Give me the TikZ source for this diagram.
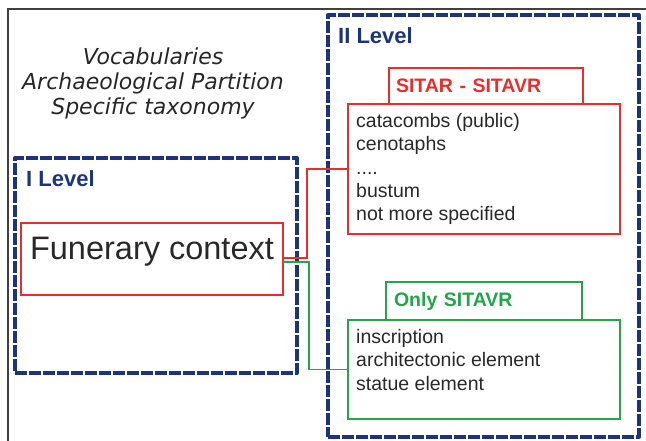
\documentclass[tikz,border=0pt]{standalone}
\usepackage{fontspec}
\setmainfont{Liberation Sans}
\newfontfamily\titlefont{DejaVu Sans}
\usepackage{tikz}
\definecolor{navyblue}{RGB}{30,52,120}
\definecolor{boxred}{RGB}{232,45,45}
\definecolor{boxgreen}{RGB}{35,165,75}
\definecolor{textgray}{RGB}{40,40,40}

\begin{document}
\begin{tikzpicture}[x=1pt,y=-1pt]
    \tikzstyle{levelframe}=[draw=navyblue, line width=4pt, dash pattern=on 12pt off 2pt, line join=round, inner sep=0pt, outer sep=0pt]
    \tikzstyle{levellabel}=[anchor=base west, inner sep=0pt, text=navyblue, font=\fontsize{22}{26}\selectfont\bfseries]
    \tikzstyle{redbox}=[draw=boxred, line width=1.5pt, inner sep=0pt, outer sep=0pt]
    \tikzstyle{greenbox}=[draw=boxgreen, line width=1.5pt, inner sep=0pt, outer sep=0pt]
    \tikzstyle{tabbox}=[anchor=south west, text width=180pt, align=left, inner xsep=7pt, inner ysep=0pt, minimum height=36pt, font=\fontsize{19.5}{23.4}\selectfont\bfseries]
    \tikzstyle{itemlist}=[anchor=north west, align=left, inner xsep=8pt, inner ysep=9pt, text=textgray, font=\fontsize{19.5}{23.4}\selectfont]
    \useasboundingbox (0,0) rectangle (646,441);
    \draw[black!75, line width=1.5pt] (8,441) -- (8,9) -- (646,9);

    \node[font=\titlefont\itshape\fontsize{22}{25}\selectfont, align=center, text=black!85] (title) at (153,83) {Vocabularies\\Archaeological Partition\\Specific taxonomy};

    % the two levels
    \node[levelframe, minimum width=282pt, minimum height=215pt] (lev1) at (156,265.5) {};
    \node[levelframe, minimum width=311pt, minimum height=422pt] (lev2) at (483.5,226) {};
    \node[levellabel] (lev1lbl) at ([xshift=11pt,yshift=-29pt]lev1.north west) {I Level};
    \node[levellabel] (lev2lbl) at ([xshift=10pt,yshift=-29pt]lev2.north west) {II Level};

    \node[redbox, minimum width=262pt, minimum height=72pt, text=textgray, font=\fontsize{32.5}{36}\selectfont, text height=24pt, text depth=22pt] (fc) at (152,259) {Funerary context};

    % SITAR - SITAVR
    \node[redbox, minimum width=272pt, minimum height=130pt] (sitar) at (484,169) {};
    \node[redbox, tabbox, text=boxred] (sitartab) at ([xshift=41pt]sitar.north west) {SITAR - SITAVR};
    \node[itemlist] (sitartxt) at (sitar.north west) {catacombs (public)\\cenotaphs\\....\\bustum\\not more specified};

    % Only SITAVR
    \node[greenbox, minimum width=272pt, minimum height=99pt] (only) at (484,369.5) {};
    \node[greenbox, tabbox, text=boxgreen, minimum height=38pt, inner xsep=8pt] (onlytab) at ([xshift=38pt]only.north west) {Only SITAVR};
    \node[itemlist] (onlytxt) at (only.north west) {inscription\\architectonic element\\statue element};

    \draw[boxred, line width=1.4pt] ([yshift=1pt]fc.east) -| ([xshift=-41pt]sitar.west) -- (sitar.west);
    \draw[boxgreen, line width=1.4pt] ([yshift=-3pt]fc.east) -| ([xshift=-39pt]only.west) -- (only.west);
\end{tikzpicture}
\end{document}
